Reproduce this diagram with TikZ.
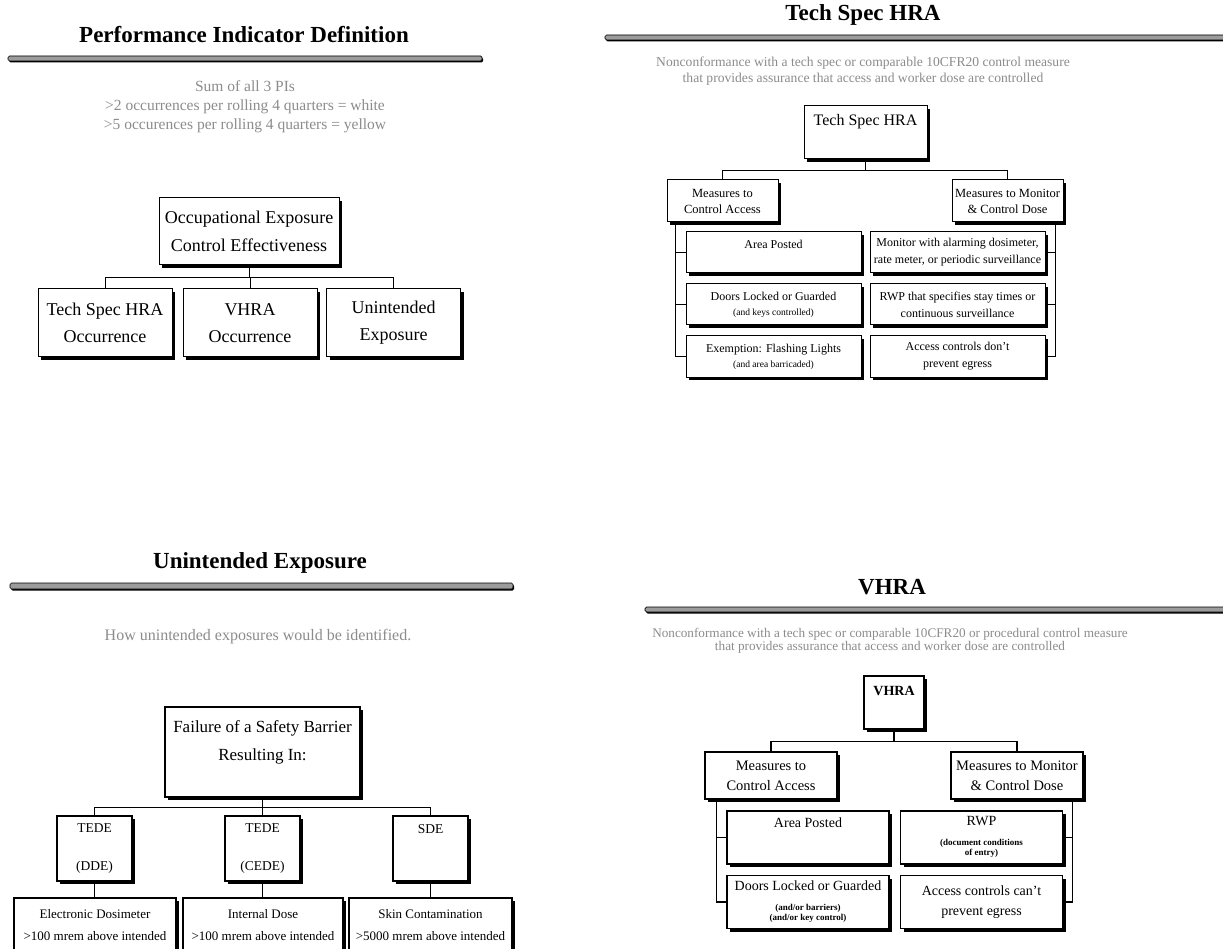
\documentclass[tikz,border=0pt]{standalone}
\usepackage{fontspec}
\setmainfont{Liberation Serif}
\usepackage{tikz}
\usetikzlibrary{shadows}
\definecolor{subgray}{HTML}{8C8C8C}
\definecolor{rulegray}{HTML}{9C9C9C}
\newcommand{\fsz}[2]{\fontsize{#1}{#2}\selectfont}
\newcommand{\twonote}[2]{{\bfseries\fsz{9}{10}\begin{tabular}[t]{@{}c@{}}#1\\#2\end{tabular}}}

\begin{document}
\begin{tikzpicture}[
  x=1pt,y=-1pt,
  every node/.style={align=center,inner sep=0pt},
  heading/.style={font=\bfseries\fsz{23}{27}},
  note/.style={text=subgray},
  titlebar/.style={draw=black,fill=rulegray,line width=0.7pt,rounded corners=1.5pt,
    drop shadow={shadow xshift=1.2pt,shadow yshift=-1.5pt,fill=black,opacity=1}},
  box/.style={draw=black,fill=white,line width=1pt,
    drop shadow={shadow xshift=3pt,shadow yshift=-3pt,fill=black,opacity=1}},
  thickbox/.style={box,line width=1.4pt},
  link/.style={draw=black,line width=1pt},
  thicklink/.style={draw=black,line width=1.4pt},
  pibox/.style={box,minimum width=134,minimum height=68,font=\fsz{18}{27}},
  tshead/.style={box,minimum width=111,minimum height=42,font=\fsz{12.5}{16}},
  tsitem/.style={box,minimum width=175,minimum height=41,font=\fsz{12}{17}},
  uemid/.style={thickbox,minimum width=75,minimum height=65,font=\fsz{13.5}{38}},
  uelow/.style={thickbox,minimum height=54,font=\fsz{13}{22}},
  vhead/.style={thickbox,minimum width=132,minimum height=47,font=\fsz{14.5}{20}},
  vitem/.style={thickbox,minimum width=162,minimum height=53,font=\fsz{14}{20}}
]
\useasboundingbox[fill=white] (0,0) rectangle (1223,949);

\node[heading] (pidtitle) at (244,35) {Performance Indicator Definition};
\path[titlebar] (8,56) rectangle (482,61);
\node[note,font=\fsz{15.5}{19}] (pidnote) at (245,107)
  {Sum of all 3 PIs\\>2 occurrences per rolling 4 quarters = white\\>5 occurences per rolling 4 quarters = yellow};
\node[box,minimum width=180,minimum height=67,font=\fsz{18}{28}] (oece) at (249,231.5)
  {Occupational Exposure\\Control Effectiveness};
\node[pibox] (tshocc) at (105,323) {Tech Spec HRA\\Occurrence};
\node[pibox] (vhraocc) at (250,323) {VHRA\\Occurrence};
\node[pibox] (unexp) at (393.5,323) {Unintended\\Exposure};
\foreach \c in {tshocc,vhraocc,unexp}
  \draw[link] (oece.south) -- ++(0,12) -| (\c.north);

\node[heading] (tstitle) at (863,15) {Tech Spec HRA};
\path[titlebar] (605,35) rectangle (1226,40);
\node[note,font=\fsz{13.6}{16}] (tsnote) at (863,71)
  {Nonconformance with a tech spec or comparable 10CFR20 control measure\\that provides assurance that access and worker dose are controlled};
\node[box,minimum width=123,minimum height=53,font=\fsz{16}{25}] (tsroot) at (865.5,132.5) {Tech Spec HRA\\~};
\node[tshead] (tsacc) at (722.5,201) {Measures to\\Control Access};
\node[tshead] (tsdose) at (1007.5,201) {Measures to Monitor\\\& Control Dose};
\foreach \c in {tsacc,tsdose}
  \draw[link] (tsroot.south) -- ++(0,11) -| (\c.north);
\node[tsitem] (tsa1) at (773.5,252.5) {Area Posted\\~};
\node[tsitem] (tsa2) at (773.5,304.5) {Doors Locked or Guarded\\[-2pt]{\fsz{9.5}{10}(and keys controlled)}};
\node[tsitem] (tsa3) at (773.5,356.5) {Exemption: Flashing Lights\\[-2pt]{\fsz{9.5}{10}(and area barricaded)}};
\node[tsitem] (tsd1) at (957.5,252.5) {Monitor with alarming dosimeter,\\rate meter, or periodic surveillance};
\node[tsitem] (tsd2) at (957.5,304.5) {RWP that specifies stay times or\\continuous surveillance};
\node[tsitem] (tsd3) at (957.5,356.5) {Access controls don’t\\prevent egress};
\foreach \i in {1,2,3}{
  \draw[link] ([xshift=9]tsacc.south west) |- (tsa\i.west);
  \draw[link] ([xshift=-8]tsdose.south east) |- (tsd\i.east);
}

\node[heading] (uetitle) at (260,563) {Unintended Exposure};
\path[titlebar] (10,583) rectangle (513,589);
\node[note,font=\fsz{16}{19}] (uenote) at (258,637) {How unintended exposures would be identified.};
\node[thickbox,minimum width=195,minimum height=90,font=\fsz{17}{28}] (fail) at (262.5,752)
  {Failure of a Safety Barrier\\Resulting In:\\[-6pt]~};
\node[uemid] (ddetede) at (94.5,848.5) {TEDE\\(DDE)};
\node[uemid] (cedetede) at (262.5,848.5) {TEDE\\(CEDE)};
\node[uemid] (sde) at (430.5,848.5) {SDE\\~};
\foreach \c in {ddetede,cedetede,sde}
  \draw[thicklink] (fail.south) -- ++(0,10) -| (\c.north);
\node[uelow,minimum width=162] (edose) at (95,925) {Electronic Dosimeter\\>100 mrem above intended};
\node[uelow,minimum width=160] (idose) at (263,925) {Internal Dose\\>100 mrem above intended};
\node[uelow,minimum width=163] (skin) at (430.5,925) {Skin Contamination\\>5000 mrem above intended};
\draw[thicklink] (ddetede.south) -- (ddetede.south |- edose.north);
\draw[thicklink] (cedetede.south) -- (cedetede.south |- idose.north);
\draw[thicklink] (sde.south) -- (sde.south |- skin.north);

\node[heading] (vtitle) at (892,587) {VHRA};
\path[titlebar] (645,607) rectangle (1226,612);
\node[note,font=\fsz{13.2}{13}] (vnote) at (890,640.5)
  {Nonconformance with a tech spec or comparable 10CFR20 or procedural control measure\\that provides assurance that access and worker dose are controlled};
\node[thickbox,minimum width=60,minimum height=53,font=\bfseries\fsz{14}{24}] (vroot) at (894,702.5) {VHRA\\~};
\node[vhead] (vacc) at (771,775.5) {Measures to\\Control Access};
\node[vhead] (vdose) at (1017,775.5) {Measures to Monitor\\\& Control Dose};
\foreach \c in {vacc,vdose}
  \draw[thicklink] (vroot.south) -- ++(0,12) -| (\c.north);
\node[vitem] (va1) at (808,837.5) {Area Posted\\[10pt]~};
\node[vitem] (va2) at (808,902) {Doors Locked or Guarded\\\twonote{(and/or barriers)}{(and/or key control)}};
\node[vitem] (vd1) at (981.5,837.5) {RWP\\\twonote{(document conditions}{of entry)}};
\node[vitem] (vd2) at (981.5,902) {Access controls can’t\\prevent egress};
\foreach \i in {1,2}{
  \draw[thicklink] ([xshift=12]vacc.south west) |- (va\i.west);
  \draw[thicklink] ([xshift=-11]vdose.south east) |- (vd\i.east);
}
\end{tikzpicture}
\end{document}
